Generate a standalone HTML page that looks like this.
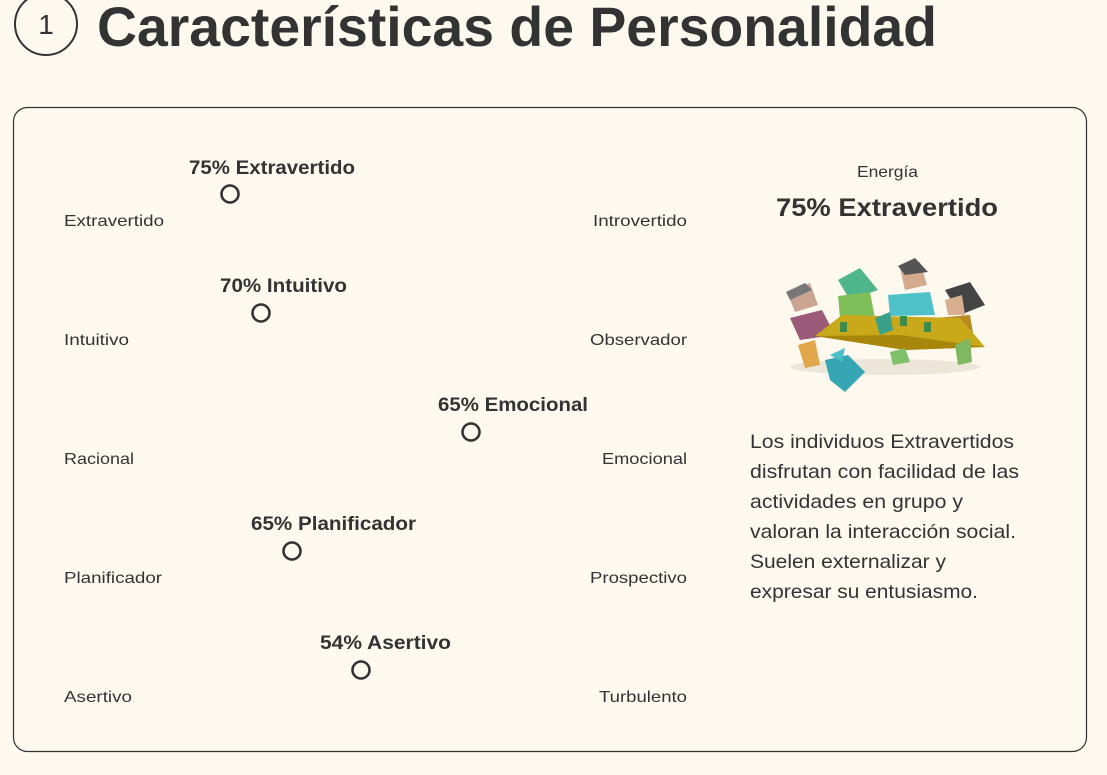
<!DOCTYPE html>
<html><head><meta charset="utf-8"><style>
html,body{margin:0;padding:0;background:#fef9ef;width:1107px;height:775px;overflow:hidden}
svg{display:block}
text{font-family:"Liberation Sans",sans-serif;fill:#333}
</style></head><body>
<svg width="1107" height="775" viewBox="0 0 1107 775">
<rect width="1107" height="775" fill="#fef9ef"/>
<circle cx="46" cy="24" r="31" fill="none" stroke="#333" stroke-width="2"/>
<text x="46" y="34" font-size="28" text-anchor="middle">1</text>
<text x="97" y="46" font-size="56" font-weight="bold" textLength="840" lengthAdjust="spacingAndGlyphs" fill="#3a3a3a">Características de Personalidad</text>
<rect x="13.5" y="107.5" width="1073" height="644" rx="14" fill="#fef9ef" stroke="#333" stroke-width="1.2"/>
<g font-size="16">
<text x="64" y="226" textLength="100" lengthAdjust="spacingAndGlyphs">Extravertido</text><text x="593" y="226" textLength="94" lengthAdjust="spacingAndGlyphs">Introvertido</text>
<text x="64" y="345" textLength="65" lengthAdjust="spacingAndGlyphs">Intuitivo</text><text x="590" y="345" textLength="97" lengthAdjust="spacingAndGlyphs">Observador</text>
<text x="64" y="464" textLength="70" lengthAdjust="spacingAndGlyphs">Racional</text><text x="602" y="464" textLength="85" lengthAdjust="spacingAndGlyphs">Emocional</text>
<text x="64" y="583" textLength="98" lengthAdjust="spacingAndGlyphs">Planificador</text><text x="590" y="583" textLength="97" lengthAdjust="spacingAndGlyphs">Prospectivo</text>
<text x="64" y="702" textLength="68" lengthAdjust="spacingAndGlyphs">Asertivo</text><text x="599" y="702" textLength="88" lengthAdjust="spacingAndGlyphs">Turbulento</text>
</g>
<g font-size="19" font-weight="bold">
<text x="189" y="174" textLength="166" lengthAdjust="spacingAndGlyphs">75% Extravertido</text>
<text x="220" y="292" textLength="127" lengthAdjust="spacingAndGlyphs">70% Intuitivo</text>
<text x="438" y="411" textLength="150" lengthAdjust="spacingAndGlyphs">65% Emocional</text>
<text x="251" y="530" textLength="165" lengthAdjust="spacingAndGlyphs">65% Planificador</text>
<text x="320" y="649" textLength="131" lengthAdjust="spacingAndGlyphs">54% Asertivo</text>
</g>
<g fill="none" stroke="#333" stroke-width="2.6">
<circle cx="230" cy="194" r="8.5"/><circle cx="261" cy="313" r="8.5"/><circle cx="471" cy="432" r="8.5"/><circle cx="292" cy="551" r="8.5"/><circle cx="361" cy="670" r="8.5"/>
</g>
<text x="857" y="177" font-size="16" textLength="61" lengthAdjust="spacingAndGlyphs">Energía</text>
<text x="887" y="216" font-size="25" font-weight="bold" text-anchor="middle" textLength="222" lengthAdjust="spacingAndGlyphs">75% Extravertido</text>
<g>
<ellipse cx="885" cy="367" rx="95" ry="8" fill="#ece6d8"/>
<polygon points="790,318 822,310 835,335 800,340" fill="#9a5a78"/>
<polygon points="787,292 810,283 818,305 795,312" fill="#c9a592"/>
<polygon points="786,292 805,283 812,290 790,300" fill="#777"/>
<polygon points="838,280 860,268 878,290 850,300" fill="#4fb58c"/>
<polygon points="838,296 870,292 875,318 840,318" fill="#7fbf5a"/>
<polygon points="900,268 920,262 927,285 905,290" fill="#d4a98c"/>
<polygon points="898,266 915,258 928,272 905,275" fill="#555"/>
<polygon points="888,295 930,292 935,315 890,316" fill="#4fc1c8"/>
<polygon points="945,290 970,282 985,305 960,315" fill="#444"/>
<polygon points="945,300 962,295 965,315 948,315" fill="#d8b090"/>
<polygon points="935,318 970,315 975,345 940,345" fill="#b88a22"/>
<polygon points="815,336 842,315 960,318 985,347 905,350" fill="#c9a81a"/>
<polygon points="815,336 905,350 985,347 900,335" fill="#a8860c"/>
<rect x="840" y="322" width="7" height="10" fill="#3e8a4a"/><rect x="900" y="316" width="7" height="10" fill="#3e8a4a"/><rect x="924" y="322" width="7" height="10" fill="#3e8a4a"/>
<polygon points="875,318 890,312 893,330 880,335" fill="#3aa089"/>
<polygon points="825,360 848,355 865,372 845,392 830,380" fill="#36a6b5"/>
<polygon points="830,355 845,348 842,362" fill="#4cc0c8"/>
<polygon points="890,352 905,348 910,362 893,365" fill="#7fc06a"/>
<polygon points="798,345 815,340 820,365 805,368" fill="#e0a84a"/>
<polygon points="955,345 970,338 972,362 958,365" fill="#7fb860"/>
</g>
<g font-size="19.5">
<text x="750" y="448" textLength="264" lengthAdjust="spacingAndGlyphs">Los individuos Extravertidos</text>
<text x="750" y="478" textLength="269" lengthAdjust="spacingAndGlyphs">disfrutan con facilidad de las</text>
<text x="750" y="508" textLength="213" lengthAdjust="spacingAndGlyphs">actividades en grupo y</text>
<text x="750" y="538" textLength="266" lengthAdjust="spacingAndGlyphs">valoran la interacción social.</text>
<text x="750" y="568" textLength="196" lengthAdjust="spacingAndGlyphs">Suelen externalizar y</text>
<text x="750" y="598" textLength="228" lengthAdjust="spacingAndGlyphs">expresar su entusiasmo.</text>
</g>
</svg>
</body></html>
